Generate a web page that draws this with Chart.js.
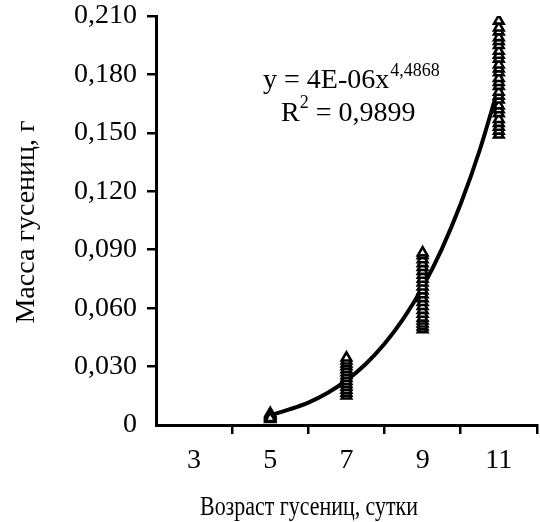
<!DOCTYPE html>
<html>
<head>
<meta charset="utf-8">
<script src="https://cdn.jsdelivr.net/npm/chart.js@4/dist/chart.umd.min.js"></script>
<style>
  html, body { margin: 0; padding: 0; background: #fff; overflow: hidden; }
  #wrap { width: 540px; height: 522px; overflow: hidden; }
</style>
</head>
<body>
<div id="wrap"><canvas id="c" width="545" height="522"></canvas></div>
<script>
// ---- data ----
const ages = [5, 7, 9, 11];
const massAt5  = [0.003, 0.004, 0.005, 0.006, 0.0045, 0.0055, 0.0035];
const massAt7  = [0.015, 0.0165, 0.018, 0.0195, 0.021, 0.0225, 0.024, 0.0255, 0.027, 0.0285, 0.030, 0.0315, 0.033, 0.0345];
const massAt9  = [0.049, 0.0505, 0.052, 0.0535, 0.055, 0.057, 0.059, 0.061, 0.063, 0.065, 0.067, 0.069, 0.071, 0.073, 0.075, 0.077, 0.079, 0.081, 0.083, 0.085, 0.087, 0.0885];
const massAt11 = [0.149, 0.151, 0.153, 0.155, 0.157, 0.160, 0.162, 0.164, 0.167, 0.169, 0.171, 0.174, 0.176, 0.178, 0.181, 0.183, 0.185, 0.188, 0.190, 0.192, 0.195, 0.197, 0.199, 0.202, 0.204, 0.2075];
const trendX = [5, 5.5, 6, 6.5, 7, 7.5, 8, 8.5, 9, 9.5, 10, 10.5, 11];
const trendY = [0.005, 0.008, 0.0115, 0.0164, 0.0229, 0.0312, 0.0417, 0.0547, 0.0708, 0.0902, 0.1136, 0.1412, 0.174];
const xTickLabels = {3: "3", 5: "5", 7: "7", 9: "9", 11: "11"};
const yTickLabels = ["0", "0,030", "0,060", "0,090", "0,120", "0,150", "0,180", "0,210"];
const xTitle = "Возраст гусениц, сутки";
const yTitle = "Масса гусениц, г";
const eqMain = "y = 4E-06x";
const eqExp = "4,4868";
const r2Main = "R";
const r2Exp = "2";
const r2Rest = " = 0,9899";

const groups = [massAt5, massAt7, massAt9, massAt11];
const scatterPts = [];
groups.forEach((g, i) => g.forEach(v => scatterPts.push({x: ages[i], y: v})));
const trendPts = trendX.map((x, i) => ({x: x, y: trendY[i]}));

const FONT = "'Liberation Serif', 'Times New Roman', serif";

const textPlugin = {
  id: 'texts',
  afterDraw(chart) {
    const ctx = chart.ctx;
    ctx.save();
    ctx.fillStyle = '#000';
    ctx.textBaseline = 'alphabetic';
    ctx.textAlign = 'left';
    // equation
    ctx.font = "28px " + FONT;
    ctx.fillText(eqMain, 263, 88);
    let w = ctx.measureText(eqMain).width;
    ctx.font = "18px " + FONT;
    ctx.fillText(eqExp, 263 + w + 1, 76);
    // R^2
    ctx.font = "28px " + FONT;
    ctx.fillText(r2Main, 281, 121);
    w = ctx.measureText(r2Main).width;
    ctx.font = "18px " + FONT;
    ctx.fillText(r2Exp, 281 + w, 108);
    const w2 = ctx.measureText(r2Exp).width;
    ctx.font = "28px " + FONT;
    ctx.fillText(r2Rest, 281 + w + w2, 121);
    // x axis title (slightly condensed as in the reference)
    ctx.textAlign = 'center';
    ctx.textBaseline = 'middle';
    ctx.font = "27px " + FONT;
    const tw = ctx.measureText(xTitle).width;
    const sx = 218 / tw;
    ctx.save();
    ctx.translate(309, 508);
    ctx.scale(sx, 1);
    ctx.fillText(xTitle, 0, 0);
    ctx.restore();
    // y axis title
    ctx.font = "28px " + FONT;
    ctx.translate(27, 222);
    ctx.rotate(-Math.PI / 2);
    ctx.fillText(yTitle, 0, 0);
    ctx.restore();
  }
};

new Chart(document.getElementById('c'), {
  type: 'scatter',
  data: {
    datasets: [
      {
        type: 'line',
        data: trendPts,
        borderColor: '#000',
        borderWidth: 4,
        pointRadius: 0,
        cubicInterpolationMode: 'monotone',
        fill: false,
        order: 2
      },
      {
        data: scatterPts,
        pointStyle: 'triangle',
        pointRadius: 5.5,
        pointBackgroundColor: '#fff',
        pointBorderColor: '#000',
        pointBorderWidth: 2.6,
        order: 1
      }
    ]
  },
  options: {
    responsive: false,
    animation: false,
    layout: { padding: { top: 16, right: 0, left: 0, bottom: 0 } },
    plugins: { legend: { display: false }, tooltip: { enabled: false } },
    scales: {
      x: {
        type: 'linear',
        min: 2, max: 12,
        afterFit: s => { s.height = 97; s.paddingLeft = 0; s.paddingRight = 0; },
        ticks: {
          stepSize: 1,
          autoSkip: false,
          maxRotation: 0,
          padding: 10,
          color: '#000',
          font: { family: FONT, size: 28 },
          callback: v => xTickLabels[v] !== undefined ? xTickLabels[v] : ''
        },
        grid: {
          drawOnChartArea: false,
          drawTicks: true,
          tickLength: 9,
          lineWidth: 2.5,
          color: c => (c.tick && c.tick.value % 2 === 0 && c.tick.value !== 2) ? '#000' : 'rgba(0,0,0,0)'
        },
        border: { display: true, color: '#000', width: 3 }
      },
      y: {
        min: 0, max: 0.21,
        afterFit: s => { s.width = 156; s.paddingTop = 0; s.paddingBottom = 0; },
        ticks: {
          stepSize: 0.03,
          padding: 10,
          color: '#000',
          font: { family: FONT, size: 28 },
          callback: (v, i) => yTickLabels[i]
        },
        grid: {
          drawOnChartArea: false,
          drawTicks: true,
          tickLength: 9,
          lineWidth: 2.5,
          color: c => (c.tick && c.tick.value > 0) ? '#000' : 'rgba(0,0,0,0)'
        },
        border: { display: true, color: '#000', width: 3 }
      }
    }
  },
  plugins: [textPlugin]
});
</script>
</body>
</html>
